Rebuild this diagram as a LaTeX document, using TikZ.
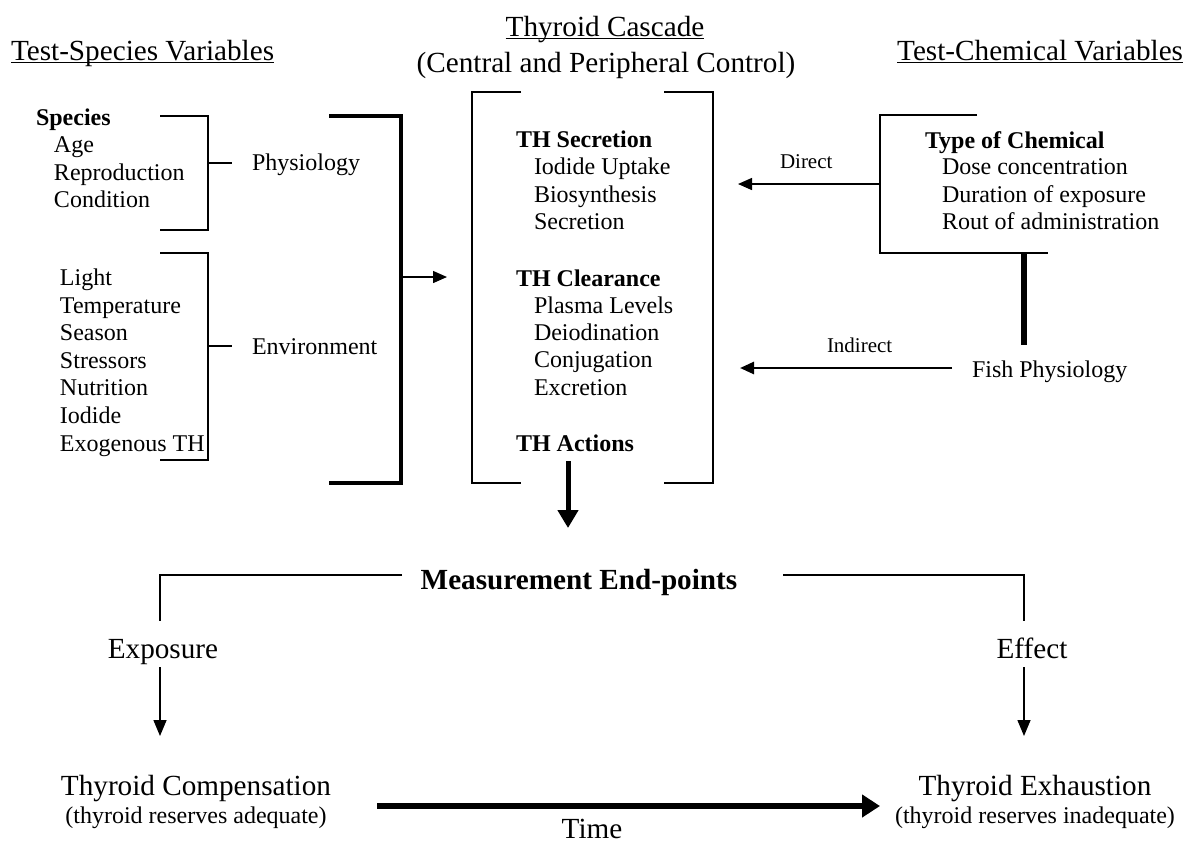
\documentclass[tikz,border=0pt]{standalone}
\usepackage{fontspec}
\setmainfont{Liberation Serif}
\usetikzlibrary{arrows.meta}
\begin{document}
\begin{tikzpicture}[x=0.5pt,y=-0.5pt,
  every node/.style={inner sep=0pt, outer sep=0pt},
  hdr/.style={font=\fontsize{14.6}{17}\selectfont},
  hdrb/.style={font=\fontsize{14.6}{17}\selectfont\bfseries},
  txt/.style={font=\fontsize{12}{14}\selectfont, anchor=base west},
  txtb/.style={font=\fontsize{12}{14}\selectfont\bfseries, anchor=base west},
  lbl/.style={font=\fontsize{10.5}{12}\selectfont, anchor=base west},
  paren/.style={font=\fontsize{12}{14}\selectfont, anchor=base},
  ln/.style={line width=0.75pt, line join=miter},
  thk/.style={line width=1.6pt, line join=miter},
  tipS/.style={-{Triangle[length=7pt,width=6pt]}},
  tipM/.style={-{Triangle[length=8pt,width=6.5pt]}}
]
\useasboundingbox (0,0) rectangle (1185,843);

% ---------- headers ----------
\node[hdr,anchor=base west] (tsv) at (11,60) {Test-Species Variables};
\draw[ln] ([yshift=-1.2pt]tsv.base west) -- ([yshift=-1.2pt]tsv.base east);
\node[hdr,anchor=base] (tc) at (605,36) {Thyroid Cascade};
\draw[ln] ([yshift=-1.2pt]tc.base west) -- ([yshift=-1.2pt]tc.base east);
\node[hdr,anchor=base] (cpc) at (606,72) {(Central and Peripheral Control)};
\node[hdr,anchor=base east] (tcv) at (1183,60) {Test-Chemical Variables};
\draw[ln] ([yshift=-1.2pt]tcv.base west) -- ([yshift=-1.2pt]tcv.base east);

% ---------- left: species ----------
\node[txtb] (species) at (36,125) {Species};
\node[txt] (age) at (54,152) {Age};
\node[txt] (repro) at (54,180) {Reproduction};
\node[txt] (cond) at (54,207) {Condition};
\node[txt] (phys) at (252,170) {Physiology};
\draw[ln] (160,116) -- (208,116) -- (208,230) -- (160,230);
\coordinate (physT) at (232,163);
\draw[ln] (208,163) -- (physT);

% ---------- left: environment ----------
\node[txt] (light) at (60,285) {Light};
\node[txt] (temp) at (60,313) {Temperature};
\node[txt] (season) at (60,340) {Season};
\node[txt] (stress) at (60,368) {Stressors};
\node[txt] (nutr) at (60,395) {Nutrition};
\node[txt] (iod) at (60,423) {Iodide};
\node[txt] (exo) at (60,451) {Exogenous TH};
\node[txt] (env) at (252,354) {Environment};
\draw[ln] (160,253) -- (208,253) -- (208,460) -- (160,460);
\coordinate (envT) at (232,346);
\draw[ln] (208,346) -- (envT);

% ---------- big bracket ----------
\draw[thk] (329,116) -- (401,116) -- (401,483) -- (329,483);
\coordinate (bigB) at (401,277);
\coordinate (boxIn) at (447,277);
\draw[ln,tipS] (bigB) -- (boxIn);

% ---------- central box ----------
\draw[ln] (521,92) -- (472,92) -- (472,483) -- (521,483);
\draw[ln] (664,92) -- (713,92) -- (713,483) -- (664,483);
\node[txtb] (ths) at (516,147) {TH Secretion};
\node[txt] (iu) at (534,174) {Iodide Uptake};
\node[txt] (bio) at (534,202) {Biosynthesis};
\node[txt] (sec) at (534,229) {Secretion};
\node[txtb] (thc) at (516,286) {TH Clearance};
\node[txt] (pl) at (534,313) {Plasma Levels};
\node[txt] (deio) at (534,340) {Deiodination};
\node[txt] (conj) at (534,367) {Conjugation};
\node[txt] (excr) at (534,395) {Excretion};
\node[txtb] (tha) at (516,451) {TH Actions};
\coordinate (downS) at (568,461);
\coordinate (downE) at (568,528);
\draw[line width=2.5pt,-{Triangle[length=9pt,width=10pt]}] (downS) -- (downE);

% ---------- right: chemical ----------
\node[txtb] (toc) at (925,148) {Type of Chemical};
\node[txt] (dose) at (942,174) {Dose concentration};
\node[txt] (dur) at (942,202) {Duration of exposure};
\node[txt] (rout) at (942,229) {Rout of administration};
\draw[ln] (977,115) -- (880,115) -- (880,253) -- (1048,253);
\coordinate (dirT) at (857,184);
\coordinate (dirE) at (738,184);
\draw[line width=1.3pt] (dirT) -- (880,184);
\draw[ln,tipS] (dirT) -- (dirE);
\node[lbl] (direct) at (780,168) {Direct};

\draw[line width=3pt] (1024,253) -- (1024,345);
\node[txt] (fish) at (972,377) {Fish Physiology};
\coordinate (indT) at (952,368);
\coordinate (indA) at (929,368);
\coordinate (indB) at (807,368);
\coordinate (indE) at (740,368);
\draw[line width=1.3pt] (indT) -- (indA);
\draw[ln] (indA) -- (indB);
\draw[line width=1.3pt,tipS] (indB) -- (indE);
\node[lbl] (indirect) at (827,352) {Indirect};

% ---------- measurement end-points ----------
\node[hdrb,anchor=base] (mep) at (579,589) {Measurement End-points};
\draw[ln] (402,575) -- (160,575) -- (160,621);
\draw[ln] (783,575) -- (1024,575) -- (1024,621);
\node[hdr,anchor=base] (expo) at (163,658) {Exposure};
\node[hdr,anchor=base] (eff) at (1032,658) {Effect};
\draw[ln,tipM] (160,667) -- (160,736);
\draw[ln,tipM] (1024,667) -- (1024,736);

\node[hdr,anchor=base] (tcomp) at (196,795) {Thyroid Compensation};
\node[paren] (tcompp) at (196,823) {(thyroid reserves adequate)};
\node[hdr,anchor=base] (texh) at (1035,795) {Thyroid Exhaustion};
\node[paren] (texhp) at (1035,823) {(thyroid reserves inadequate)};
\coordinate (timeS) at (377,806);
\coordinate (timeE) at (880,806);
\draw[line width=2.8pt,-{Triangle[length=9pt,width=11pt]}] (timeS) -- (timeE);
\node[hdr,anchor=base] (time) at (592,838) {Time};
\end{tikzpicture}
\end{document}
